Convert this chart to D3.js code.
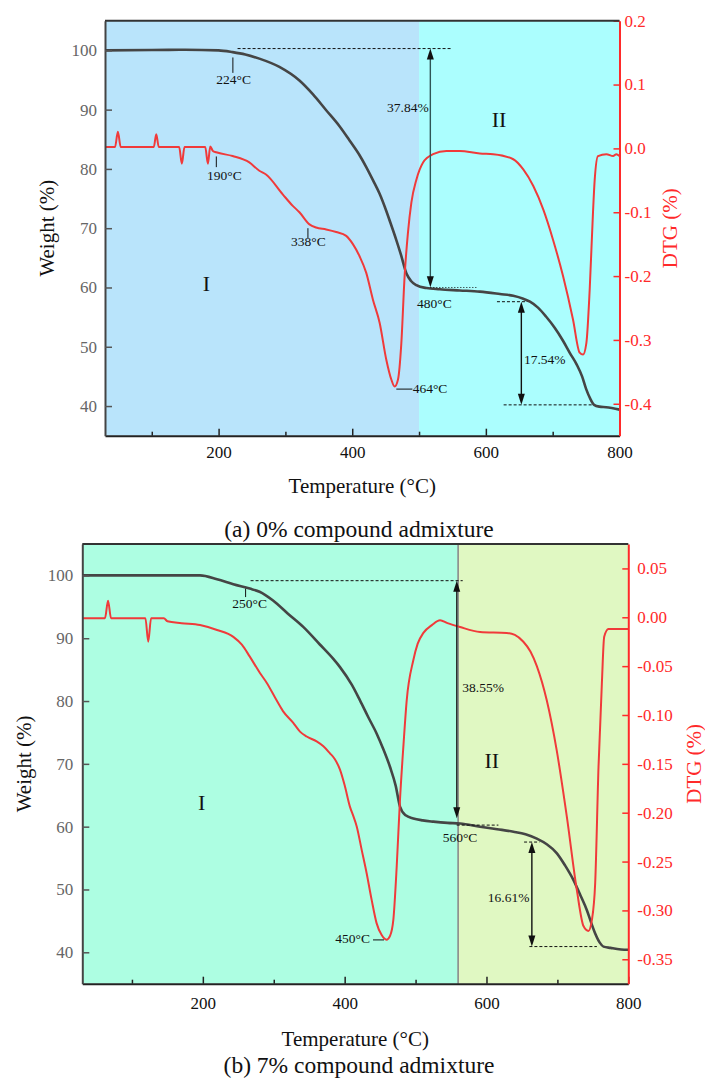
<!DOCTYPE html>
<html>
<head>
<meta charset="utf-8">
<script src="https://cdn.jsdelivr.net/npm/d3@7"></script>
<style>
body { margin: 0; background: #fff; }
svg text { font-family: "Liberation Serif", "Times New Roman", serif; }
</style>
</head>
<body>
<script>
// axis ticks
const tempTicks = [200, 400, 600, 800]
const tempMinor = [100, 300, 500, 700]
const weightTicks = [40, 50, 60, 70, 80, 90, 100]
const dtgTicksA = [0.2, 0.1, 0, -0.1, -0.2, -0.3, -0.4]
const dtgTicksB = [0.05, 0, -0.05, -0.1, -0.15, -0.2, -0.25, -0.3, -0.35]

// stages (temperature ranges)
const stagesA = [[30, 500], [500, 800]]
const stagesB = [[30, 560], [560, 800]]

// (a) 0% admixture: TG weight (%) and DTG (%/°C) vs temperature
const tgA = [[30,100],[100,100.05],[150,100.1],[200,100],[221,99.7],[240,99.3],[261,98.6],[291,97.2],
  [321,94.9],[341,92.6],[361,89.9],[381,87.2],[396,84.8],[411,82.3],[421,80.3],[431,78.1],[441,75.8],
  [451,72.9],[456,71.3],[466,68.0],[473,65.5],[481,62.4],[488,61.1],[496,60.4],[511,59.9],[531,59.7],
  [561,59.5],[591,59.3],[621,58.9],[641,58.6],[656,58.1],[666,57.6],[678,56.6],[690,55.1],[703,53.2],
  [715,51.1],[726,48.9],[736,47.0],[744,45.0],[750,42.9],[756,41.3],[762,40.2],[770,39.9],[780,39.8],[800,39.4]]

const dtgA = [[30,0.002],[45,0.002],[49.3,0.026],[53.5,0.002],[103,0.002],[106.7,0.022],[110.5,0.002],
  [141,0.002],[145,-0.024],[149,0.002],[180,0.002],[184,-0.024],[187.5,0.003],[191.5,-0.004],[196.5,-0.006],
  [221,-0.012],[246,-0.022],[261,-0.035],[271,-0.041],[296,-0.072],[311,-0.090],[321,-0.100],[336,-0.119],
  [346,-0.124],[361,-0.127],[376,-0.131],[391,-0.137],[401,-0.150],[411,-0.169],[421,-0.195],[431,-0.237],
  [441,-0.273],[451,-0.331],[458.5,-0.362],[463.5,-0.373],[468.5,-0.362],[473.5,-0.305],[478.4,-0.200],
  [483.4,-0.132],[488.5,-0.085],[496,-0.049],[506,-0.022],[521,-0.009],[541,-0.004],[561,-0.004],
  [591,-0.008],[611,-0.009],[641,-0.017],[656,-0.033],[671,-0.059],[686,-0.096],[700.5,-0.143],
  [715.5,-0.200],[730.4,-0.268],[740.4,-0.320],[745.4,-0.323],[750.4,-0.305],[755.4,-0.221],
  [760.3,-0.101],[762.9,-0.049],[767.8,-0.012],[780.4,-0.009],[790.4,-0.012],[795.4,-0.009],[800,-0.012]]

// (b) 7% admixture
const tgB = [[30,100],[100,100],[196,100],[220,99.4],[243,98.6],[266,97.9],[280,97.4],[299,96.0],
  [320,93.9],[341.6,91.8],[365,89.0],[384,86.7],[393.4,85.4],[410,82.6],[421.6,80.1],[433,77.5],
  [445.2,74.8],[455,72.2],[464,69.5],[472,66.5],[478,63.2],[486,61.8],[496.8,61.3],[510,61.0],
  [525,60.8],[545,60.6],[562.7,60.5],[591,60.0],[615,59.6],[638,59.2],[655,58.8],[671,58.1],
  [685,57.2],[699,55.8],[711,53.8],[722.7,51.5],[732,49.2],[741.6,46.7],[748,44.6],[753.3,43.0],
  [760,41.5],[765,40.9],[775,40.7],[798,40.4],[800,40.4]]

const dtgB = [[30,-0.001],[62,-0.001],[66.3,0.017],[70.5,-0.001],[119,-0.001],[123,-0.025],[127,-0.001],
  [145,-0.001],[150,-0.004],[170,-0.006],[196,-0.008],[220,-0.013],[243,-0.020],[255,-0.028],[266,-0.040],
  [280.5,-0.057],[290,-0.067],[304,-0.085],[313,-0.096],[327.5,-0.108],[337,-0.117],[346.4,-0.122],
  [360.5,-0.127],[370,-0.132],[379,-0.139],[386,-0.145],[393.4,-0.156],[400,-0.172],[407.5,-0.194],
  [412,-0.203],[417,-0.214],[424,-0.238],[431,-0.262],[438,-0.289],[445,-0.313],[452,-0.325],[459,-0.330],
  [464,-0.326],[468.6,-0.310],[473.4,-0.255],[478,-0.187],[483,-0.130],[487.5,-0.085],[496.8,-0.044],
  [503,-0.027],[511,-0.016],[523,-0.008],[534.5,-0.003],[545,-0.006],[562.7,-0.010],[591,-0.015],
  [628.6,-0.016],[640,-0.018],[652,-0.025],[662,-0.035],[671,-0.050],[685,-0.085],[699,-0.136],
  [713.3,-0.204],[727.4,-0.279],[736.8,-0.316],[743.8,-0.321],[748.6,-0.310],[753.3,-0.272],[758,-0.153],
  [762.7,-0.068],[766,-0.020],[772,-0.012],[800,-0.012]]

// annotations in data units (temperature, weight)
const segsA = [[221.4,98.8,221.4,96.2,''],[228.4,100.3,548.3,100.3,'3,2'],[196.6,82.1,196.6,80.3,''],
  [333.7,70.0,333.7,68.3,''],[516.9,60.0,585.8,60.0,'1,2'],[466,42.86,490,42.86,''],
  [616.6,57.6,661.5,57.6,'3,2'],[626.6,40.2,760.3,40.2,'3,2']]
const arrowsA = [[516.9,100.3,60.05],[653.1,57.6,40.2]]
const notesA = [[222.5,94.4,'224°C','middle'],[514.4,89.6,'37.84%','end'],[208.7,78.1,'190°C','middle'],
  [334.4,66.96,'338°C','middle'],[522.9,56.6,'480°C','middle'],[490.4,42.2,'464°C','start'],
  [657,47.07,'17.54%','start']]
const stageNotesA = [[181.6,59.4,'I'],[619.6,87.1,'II']]

const segsB = [[260.3,97.9,260.3,96.55,''],[267.3,99.16,566.5,99.16,'3,2'],[558,60.25,616.8,60.25,'3,2'],
  [440,41.97,455.5,41.97,''],[653,57.55,674.7,57.55,'3,2'],[660.5,40.91,755.7,40.91,'3,2']]
const arrowsB = [[558.1,99.16,61.32],[664,57.55,40.91]]
const notesB = [[265.9,94.86,'250°C','middle'],[566,81.45,'38.55%','start'],[562.7,57.6,'560°C','middle'],
  [435.7,41.54,'450°C','end'],[660.5,48.06,'16.61%','end']]
const stageNotesB = [[198.2,62.64,'I'],[607.5,69.27,'II']]

const serif = '"Liberation Serif", "Times New Roman", serif'
const svg = d3.select('body').append('svg').attr('width', 705).attr('height', 1079)

const panels = [
  { l: 105, r: 619.5, t: 20.7, b: 435.7, dtgDomain: [-0.45, 0.2], dtgTicks: dtgTicksA, digits: 1,
    tg: tgA, dtg: dtgA, stages: stagesA, bg: ['#b9e4fb', '#abfefe'], divider: false,
    segs: segsA, arrows: arrowsA, notes: notesA, stageNotes: stageNotesA, arrowColor: ['#2f5555', '#111'],
    xPad: 10, yPad: 8, rPad: 5, xTitleY: 493, yTitleX: 54, rTitleX: 677,
    title: '(a) 0% compound admixture', titleY: 537 },
  { l: 82.3, r: 628.3, t: 544, b: 983.7, dtgDomain: [-0.375, 0.075], dtgTicks: dtgTicksB, digits: 2,
    tg: tgB, dtg: dtgB, stages: stagesB, bg: ['#adfee2', '#e0f8c2'], divider: true,
    segs: segsB, arrows: arrowsB, notes: notesB, stageNotes: stageNotesB, arrowColor: ['#222', '#111'],
    xPad: 13, yPad: 9, rPad: 9, xTitleY: 1046, yTitleX: 31, rTitleX: 701,
    title: '(b) 7% compound admixture', titleY: 1073 }
]

panels.forEach((p, k) => {
  const x = d3.scaleLinear().domain([30, 800]).range([p.l, p.r])
  const yW = d3.scaleLinear().domain([35, 105]).range([p.b, p.t])
  const yD = d3.scaleLinear().domain(p.dtgDomain).range([p.b, p.t])
  const g = svg.append('g')

  g.selectAll('rect.stage').data(p.stages).join('rect')
    .attr('x', d => x(d[0])).attr('width', d => x(d[1]) - x(d[0]))
    .attr('y', p.t).attr('height', p.b - p.t)
    .attr('fill', (d, i) => p.bg[i])

  if (p.divider) {
    g.append('line')
      .attr('x1', x(p.stages[1][0])).attr('x2', x(p.stages[1][0]))
      .attr('y1', p.t).attr('y2', p.b)
      .attr('stroke', '#8a8a8a').attr('stroke-width', 1.6)
  }

  const clipId = 'clip' + k
  svg.append('clipPath').attr('id', clipId).append('rect')
    .attr('x', p.l).attr('y', p.t).attr('width', p.r - p.l).attr('height', p.b - p.t)

  const lines = g.append('g').attr('clip-path', `url(#${clipId})`)
  lines.append('path').datum(p.tg)
    .attr('fill', 'none').attr('stroke', '#454545').attr('stroke-width', 2.6)
    .attr('d', d3.line().x(d => x(d[0])).y(d => yW(d[1])).curve(d3.curveMonotoneX))
  lines.append('path').datum(p.dtg)
    .attr('fill', 'none').attr('stroke', '#f03a3a').attr('stroke-width', 2)
    .attr('d', d3.line().x(d => x(d[0])).y(d => yD(d[1])).curve(d3.curveMonotoneX))

  // annotations
  g.selectAll('line.seg').data(p.segs).join('line')
    .attr('x1', d => x(d[0])).attr('y1', d => yW(d[1]))
    .attr('x2', d => x(d[2])).attr('y2', d => yW(d[3]))
    .attr('stroke', '#111').attr('stroke-width', 1)
    .attr('stroke-dasharray', d => d[4] || null)

  p.arrows.forEach((a, i) => {
    const ax = x(a[0]), y1 = yW(a[1]), y2 = yW(a[2]), c = p.arrowColor[i]
    g.append('line').attr('x1', ax).attr('x2', ax).attr('y1', y1 + 8).attr('y2', y2 - 8)
      .attr('stroke', c).attr('stroke-width', 1.4)
    g.append('path').attr('fill', '#111')
      .attr('d', `M${ax},${y1}L${ax - 3.5},${y1 + 11}L${ax + 3.5},${y1 + 11}Z`)
    g.append('path').attr('fill', '#111')
      .attr('d', `M${ax},${y2}L${ax - 3.5},${y2 - 11}L${ax + 3.5},${y2 - 11}Z`)
  })

  g.selectAll('text.note').data(p.notes).join('text')
    .attr('x', d => x(d[0])).attr('y', d => yW(d[1]))
    .attr('text-anchor', d => d[3])
    .attr('font-size', 13.5).attr('fill', '#111')
    .text(d => d[2])

  g.selectAll('text.stage').data(p.stageNotes).join('text')
    .attr('x', d => x(d[0])).attr('y', d => yW(d[1]))
    .attr('text-anchor', 'middle').attr('font-size', 22).attr('fill', '#111')
    .text(d => d[2])

  // axes
  const ax = g.append('g').attr('transform', `translate(0,${p.b})`)
    .call(d3.axisBottom(x).tickValues(tempTicks).tickSizeInner(-7).tickSizeOuter(0).tickPadding(p.xPad))
    .attr('font-family', serif)
  ax.append('g').call(d3.axisBottom(x).tickValues(tempMinor).tickSizeInner(-4).tickSizeOuter(0).tickFormat(''))
    .select('.domain').remove()
  ax.selectAll('text').attr('font-size', 17).attr('fill', '#111')
  ax.selectAll('line').attr('stroke', '#222').attr('stroke-width', 1.5)
  ax.select('.domain').attr('stroke', '#222').attr('stroke-width', 2)

  const ay = g.append('g').attr('transform', `translate(${p.l},0)`)
    .call(d3.axisLeft(yW).tickValues(weightTicks).tickSizeInner(-7).tickSizeOuter(0).tickPadding(p.yPad))
    .attr('font-family', serif)
  ay.selectAll('text').attr('font-size', 17).attr('fill', '#666')
  ay.selectAll('line').attr('stroke', '#555').attr('stroke-width', 1.5)
  ay.select('.domain').attr('stroke', '#444').attr('stroke-width', 2)

  const ar = g.append('g').attr('transform', `translate(${p.r},0)`)
    .call(d3.axisRight(yD).tickValues(p.dtgTicks).tickSizeInner(-6).tickSizeOuter(0)
      .tickPadding(p.rPad).tickFormat(d => d.toFixed(p.digits)))
    .attr('font-family', serif)
  ar.selectAll('text').attr('font-size', 17).attr('fill', '#ff2a2a')
  ar.selectAll('line').attr('stroke', '#ff2a2a').attr('stroke-width', 1.5)
  ar.select('.domain').attr('stroke', '#ff2a2a').attr('stroke-width', 2)

  g.append('line').attr('x1', p.l).attr('x2', p.r).attr('y1', p.t).attr('y2', p.t)
    .attr('stroke', '#333').attr('stroke-width', 2)

  // titles
  g.append('text').attr('x', (p.l + p.r) / 2).attr('y', p.xTitleY)
    .attr('text-anchor', 'middle').attr('font-size', 21).attr('fill', '#111')
    .text('Temperature (°C)')
  g.append('text').attr('transform', `translate(${p.yTitleX},${(p.t + p.b) / 2}) rotate(-90)`)
    .attr('text-anchor', 'middle').attr('font-size', 21).attr('fill', '#111')
    .text('Weight (%)')
  g.append('text').attr('transform', `translate(${p.rTitleX},${(p.t + p.b) / 2}) rotate(-90)`)
    .attr('text-anchor', 'middle').attr('font-size', 21).attr('fill', '#ff2a2a')
    .text('DTG (%)')
  g.append('text').attr('x', 359).attr('y', p.titleY)
    .attr('text-anchor', 'middle').attr('font-size', 23.5).attr('fill', '#111')
    .text(p.title)
})
</script>
</body>
</html>
